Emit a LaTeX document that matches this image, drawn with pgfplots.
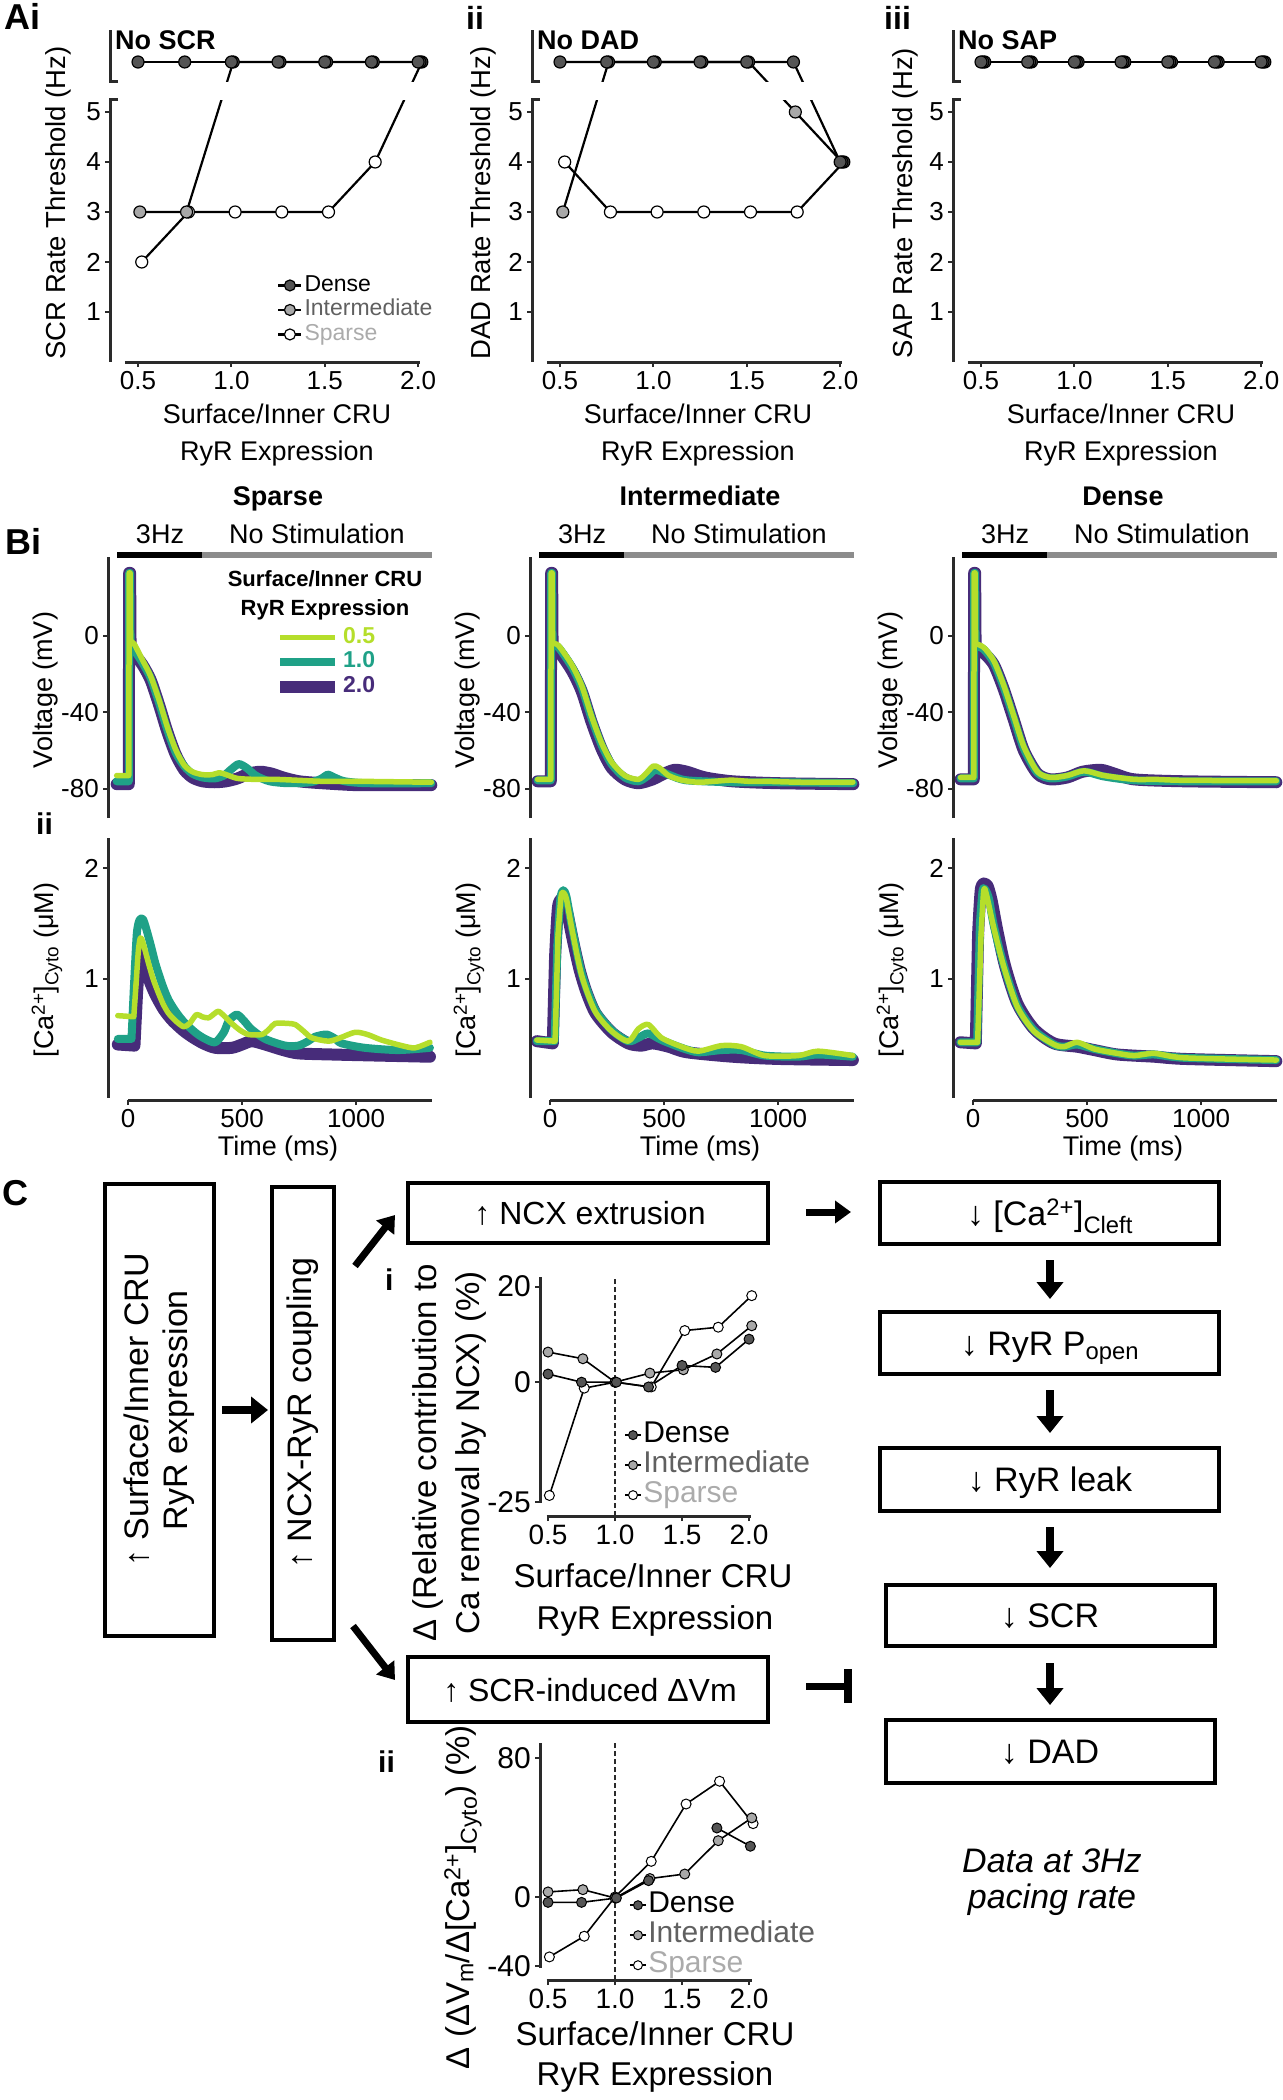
\documentclass[border=0pt]{standalone}
\usepackage{fontspec}
\setmainfont{Liberation Sans}
\usepackage{pgfplots}
\pgfplotsset{compat=1.18}
\usetikzlibrary{arrows.meta}
\newcommand\fs[2]{\fontsize{#1}{#2}\selectfont}
\definecolor{dk}{HTML}{555555}
\definecolor{md}{HTML}{A8A8A8}
\definecolor{axc}{HTML}{2A2A2A}
\definecolor{vy}{HTML}{B5DE2B}
\definecolor{vt}{HTML}{1FA187}
\definecolor{vp}{HTML}{472C7A}
\definecolor{lgI}{HTML}{606060}
\definecolor{lgS}{HTML}{ABABAB}
\definecolor{stimg}{HTML}{8C8C8C}
\pgfplotsset{
  base/.style={scale only axis, clip=false, anchor=south west,
    axis lines*=left, axis line style={draw=none},
    tick align=outside, major tick length=5pt,
    tick style={line width=2pt, color=axc},
    tick label style={font=\fs{26}{26}, inner sep=4pt},
    legend cell align=left},
  Aax/.style={base, width=310pt, height=332pt, xmin=0.35, xmax=2.01, ymin=0, ymax=6.64,
    xtick={0.5,1,1.5,2}, xticklabels={0.5,1.0,1.5,2.0},
    ytick={1,2,3,4,5}, yticklabels={1,2,3,4,5},
    legend image code/.code={\draw[mark repeat=2,mark phase=2,##1] plot coordinates {(0pt,0pt) (11.5pt,0pt) (23pt,0pt)};},
    legend style={draw=none, fill=none, anchor=north west, inner sep=0pt, row sep=0pt,
      font=\fs{23}{23}, nodes={inner sep=2pt, text height=16pt, text depth=4.5pt}}},
  Apl/.style={black, line width=2.2pt, mark=*, mark size=6pt, forget plot,
    scatter, scatter src=explicit symbolic,
    scatter/classes={d={mark=*,draw=black,fill=dk,line width=1.2pt},
                     m={mark=*,draw=black,fill=md,line width=1.2pt},
                     w={mark=*,draw=black,fill=white,line width=1.2pt}}},
  Bax/.style={base, width=324pt, xmin=-88, xmax=1333},
  BV/.style={Bax, height=261pt, ymin=-95.2, ymax=41.3, xtick=\empty, ytick={-80,-40,0}, yticklabels={-80,-40,0}},
  BC/.style={Bax, height=262pt, ymin=-0.09, ymax=2.27, ytick={1,2}, yticklabels={1,2}, xtick={0,500,1000}, xticklabels={0,500,1000}},
  BL/.style={legend image code/.code={\draw[##1] (0pt,0pt) -- (55pt,0pt);},
    legend style={draw=none, fill=none, anchor=north west, inner sep=0pt, row sep=0pt,
    font=\fs{23}{23}\bfseries, nodes={inner sep=2pt, text height=16pt, text depth=4.5pt}}},
  tp/.style={vp, line width=12pt, line join=round, line cap=round, forget plot},
  tt/.style={vt, line width=8pt, line join=round, line cap=round, forget plot},
  ty/.style={vy, line width=5.5pt, line join=round, line cap=round, forget plot},
  sm/.style={smooth, tension=0.45},
  Cax/.style={base, width=212pt, xmin=0.44, xmax=2.022,
    xtick={0.5,1,1.5,2}, xticklabels={0.5,1.0,1.5,2.0},
    xticklabel style={font=\fs{28}{28}}, yticklabel style={font=\fs{30}{30}},
    unbounded coords=jump,
    legend image code/.code={\draw[mark repeat=2,mark phase=2,##1] plot coordinates {(0pt,0pt) (8pt,0pt) (16pt,0pt)};},
    legend style={draw=none, fill=none, anchor=north west, inner sep=0pt, row sep=0pt,
      font=\fs{30}{30}, nodes={inner sep=1.5pt, text height=21pt, text depth=6pt}}},
  Cpl/.style={black, line width=1.6pt, mark=*, mark size=5pt, forget plot},
}
\begin{document}
\begin{tikzpicture}
\path[use as bounding box] (0pt,0pt) rectangle (1282pt,-2100pt);
% ================= A i
\begin{axis}[Aax, at={(110pt,-362pt)}, legend style={at={(axis cs:1.245,1.78)}}]
\addplot[Apl] coordinates {(0.52,2) [w] (0.77,3) [w] (1.02,3) [w] (1.27,3) [w] (1.52,3) [w] (1.77,4) [w] (2.02,6) [d]};
\addplot[Apl] coordinates {(0.51,3) [m] (0.76,3) [m] (1.01,6) [d] (1.26,6) [d] (1.51,6) [d] (1.76,6) [d] (2.01,6) [d]};
\addplot[Apl] coordinates {(0.5,6) [d] (0.75,6) [d] (1.0,6) [d] (1.25,6) [d] (1.5,6) [d] (1.75,6) [d] (2.0,6) [d]};
\fill[white] (axis cs:0.37,5.24) rectangle (axis cs:2.2,5.6);
\draw[axc, line width=3pt] ([xshift=8pt]axis cs:0.35,5.24) -- (axis cs:0.35,5.24) -- (axis cs:0.35,0);
\draw[axc, line width=3pt] ([xshift=8pt]axis cs:0.35,5.6) -- (axis cs:0.35,5.6) -- (axis cs:0.35,6.64);
\draw[axc, line width=3pt] (axis cs:0.43,0) -- (axis cs:2.01,0);
\addlegendimage{black, line width=2.2pt, mark=*, mark size=5.5pt, mark options={draw=black, fill=dk, line width=1.2pt}}
\addlegendentry{Dense}
\addlegendimage{black, line width=2.2pt, mark=*, mark size=5.5pt, mark options={draw=black, fill=md, line width=1.2pt}}
\addlegendentry{\textcolor{lgI}{Intermediate}}
\addlegendimage{black, line width=2.2pt, mark=*, mark size=5.5pt, mark options={draw=black, fill=white, line width=1.2pt}}
\addlegendentry{\textcolor{lgS}{Sparse}}
\end{axis}
% ================= A ii
\begin{axis}[Aax, at={(532pt,-362pt)}]
\addplot[Apl] coordinates {(0.525,4) [w] (0.77,3) [w] (1.02,3) [w] (1.27,3) [w] (1.52,3) [w] (1.77,3) [w] (2.02,4) [d]};
\addplot[Apl] coordinates {(0.515,3) [m] (0.76,6) [d] (1.01,6) [d] (1.26,6) [d] (1.51,6) [d] (1.76,5) [m] (2.01,4) [d]};
\addplot[Apl] coordinates {(0.5,6) [d] (0.75,6) [d] (1.0,6) [d] (1.25,6) [d] (1.5,6) [d] (1.75,6) [d] (2.0,4) [d]};
\fill[white] (axis cs:0.37,5.24) rectangle (axis cs:2.2,5.6);
\draw[axc, line width=3pt] ([xshift=8pt]axis cs:0.35,5.24) -- (axis cs:0.35,5.24) -- (axis cs:0.35,0);
\draw[axc, line width=3pt] ([xshift=8pt]axis cs:0.35,5.6) -- (axis cs:0.35,5.6) -- (axis cs:0.35,6.64);
\draw[axc, line width=3pt] (axis cs:0.43,0) -- (axis cs:2.01,0);
\end{axis}
% ================= A iii
\begin{axis}[Aax, at={(953pt,-362pt)}]
\addplot[Apl] coordinates {(0.52,6) [d] (0.77,6) [d] (1.02,6) [d] (1.27,6) [d] (1.52,6) [d] (1.77,6) [d] (2.02,6) [d]};
\addplot[Apl] coordinates {(0.51,6) [d] (0.76,6) [d] (1.01,6) [d] (1.26,6) [d] (1.51,6) [d] (1.76,6) [d] (2.01,6) [d]};
\addplot[Apl] coordinates {(0.5,6) [d] (0.75,6) [d] (1.0,6) [d] (1.25,6) [d] (1.5,6) [d] (1.75,6) [d] (2.0,6) [d]};
\draw[axc, line width=3pt] ([xshift=8pt]axis cs:0.35,5.24) -- (axis cs:0.35,5.24) -- (axis cs:0.35,0);
\draw[axc, line width=3pt] ([xshift=8pt]axis cs:0.35,5.6) -- (axis cs:0.35,5.6) -- (axis cs:0.35,6.64);
\draw[axc, line width=3pt] (axis cs:0.43,0) -- (axis cs:2.01,0);
\end{axis}
% ================= B Sparse voltage
\begin{axis}[BV, BL, at={(108pt,-818pt)}, legend style={at={(axis cs:640,5.7)}}]
\addplot[tp] coordinates {(-50,-77.5) (3,-77.5) (5,33) (9,33) (11,-8)};
\addplot[tp,sm] coordinates {(11,-8) (30,-10) (63,-15) (99,-23) (136,-36) (172,-50) (209,-62) (246,-70) (282,-74) (326,-76) (380,-76.5) (430,-76) (480,-74.5) (530,-72) (580,-71) (630,-72) (680,-74) (750,-76) (850,-77) (1000,-78) (1150,-78) (1330,-78)};
\addplot[tt] coordinates {(-50,-76) (3,-76) (5,33) (9,33) (11,-5)};
\addplot[tt,sm] coordinates {(11,-5) (30,-8) (63,-14) (99,-22) (136,-35) (172,-49) (209,-61) (246,-68) (282,-72) (326,-74) (380,-74.5) (420,-73) (450,-70) (485,-67) (520,-69) (560,-73) (620,-76) (700,-77) (800,-76.5) (850,-74.5) (875,-72.5) (905,-74) (950,-76) (1050,-77) (1330,-77)};
\addplot[ty] coordinates {(-50,-73) (3,-73) (5,33) (9,33) (11,-3)};
\addplot[ty,sm] coordinates {(11,-3) (26,-4) (63,-12.5) (99,-21) (136,-33.5) (172,-47.5) (209,-59.5) (246,-67.5) (282,-71) (326,-72.5) (370,-72.5) (400,-71.5) (430,-72.5) (480,-74.5) (560,-75) (650,-75) (750,-75.5) (850,-76) (1000,-76) (1330,-76.5)};
\draw[axc, line width=3pt] (axis cs:-88,-95.2) -- (axis cs:-88,41.3);
\addlegendimage{vy, line width=5.5pt}\addlegendentry{\textcolor{vy}{0.5}}
\addlegendimage{vt, line width=8pt}\addlegendentry{\textcolor{vt}{1.0}}
\addlegendimage{vp, line width=12pt}\addlegendentry{\textcolor{vp}{2.0}}
\end{axis}
% ================= B Sparse calcium
\begin{axis}[BC, at={(108pt,-1100pt)}]
\addplot[tp] coordinates {(-45,0.41) (28,0.40) (40,0.9)};
\addplot[tp,sm] coordinates {(40,0.9) (52,1.2) (62,1.24) (75,1.12) (95,0.98) (120,0.86) (155,0.73) (193,0.63) (240,0.54) (280,0.48) (330,0.42) (383,0.38) (455,0.38) (500,0.41) (543,0.44) (601,0.41) (680,0.36) (747,0.33) (893,0.32) (1100,0.31) (1324,0.30)};
\addplot[tt] coordinates {(-45,0.46) (15,0.46) (25,0.9)};
\addplot[tt,sm] coordinates {(25,0.9) (38,1.4) (50,1.53) (65,1.54) (80,1.45) (100,1.3) (120,1.14) (150,0.95) (178,0.81) (215,0.69) (251,0.60) (300,0.51) (339,0.46) (383,0.43) (420,0.52) (441,0.62) (477,0.68) (510,0.62) (540,0.55) (601,0.46) (689,0.40) (747,0.40) (790,0.44) (820,0.48) (871,0.50) (910,0.46) (937,0.42) (1039,0.38) (1185,0.36) (1324,0.38)};
\addplot[ty] coordinates {(-45,0.67) (25,0.66) (35,0.95)};
\addplot[ty,sm] coordinates {(35,0.95) (45,1.25) (54,1.37) (65,1.33) (90,1.14) (110,1.0) (134,0.87) (155,0.77) (178,0.69) (210,0.62) (244,0.57) (270,0.60) (300,0.68) (325,0.66) (353,0.65) (380,0.69) (397,0.71) (420,0.67) (455,0.60) (490,0.54) (528,0.50) (587,0.50) (620,0.55) (645,0.60) (700,0.60) (733,0.59) (770,0.53) (806,0.47) (879,0.44) (930,0.47) (996,0.52) (1050,0.50) (1112,0.45) (1200,0.40) (1258,0.38) (1324,0.43)};
\draw[axc, line width=3pt] (axis cs:-88,-0.07) -- (axis cs:-88,2.27);
\draw[axc, line width=3pt] (axis cs:0,-0.09) -- (axis cs:1333,-0.09);
\end{axis}
% ================= B Intermediate voltage
\begin{axis}[BV, at={(530pt,-818pt)}]
\addplot[tp] coordinates {(-55,-76) (3,-76) (5,33) (9,33) (11,-7)};
\addplot[tp,sm] coordinates {(11,-7) (37,-8) (95,-18) (139,-29) (182,-45) (226,-59) (270,-69) (328,-75) (387,-77) (450,-75) (500,-72) (547,-70) (600,-71) (680,-74) (800,-76) (1000,-77) (1330,-77.5)};
\addplot[tt] coordinates {(-55,-75.5) (3,-75.5) (5,33) (9,33) (11,-5)};
\addplot[tt,sm] coordinates {(11,-5) (37,-6) (95,-16) (139,-27) (182,-43) (226,-57) (270,-67) (328,-74) (387,-76) (430,-73) (460,-70) (490,-71) (530,-73) (600,-75.5) (800,-76.5) (1000,-76.5) (1330,-77)};
\addplot[ty] coordinates {(-55,-75) (3,-75) (5,33) (9,33) (11,-4)};
\addplot[ty,sm] coordinates {(11,-4) (37,-5) (95,-15) (139,-26) (182,-42) (226,-56) (270,-66) (328,-73) (387,-75) (420,-72) (453,-68) (480,-69) (520,-73) (577,-75.4) (650,-76.5) (720,-76) (796,-75.4) (870,-76) (942,-76) (1100,-76.5) (1328,-76.5)};
\draw[axc, line width=3pt] (axis cs:-88,-95.2) -- (axis cs:-88,41.3);
\end{axis}
% ================= B Intermediate calcium
\begin{axis}[BC, at={(530pt,-1100pt)}]
\addplot[tp] coordinates {(-58,0.44) (12,0.42) (22,1.2)};
\addplot[tp,sm] coordinates {(22,1.2) (35,1.65) (55,1.72) (75,1.6) (100,1.35) (130,1.08) (160,0.88) (200,0.69) (270,0.52) (343,0.42) (400,0.40) (450,0.42) (520,0.39) (600,0.34) (800,0.30) (1000,0.28) (1328,0.27)};
\addplot[tt] coordinates {(-58,0.44) (20,0.44) (32,1.3)};
\addplot[tt,sm] coordinates {(32,1.3) (45,1.72) (58,1.80) (72,1.74) (95,1.48) (139,1.05) (197,0.73) (270,0.54) (343,0.44) (387,0.47) (431,0.51) (489,0.45) (577,0.38) (650,0.34) (752,0.36) (839,0.36) (942,0.31) (1088,0.30) (1175,0.32) (1328,0.30)};
\addplot[ty] coordinates {(-58,0.45) (22,0.44) (35,1.4)};
\addplot[ty,sm] coordinates {(35,1.4) (48,1.74) (58,1.78) (72,1.72) (95,1.46) (139,1.03) (197,0.71) (270,0.53) (343,0.44) (387,0.55) (431,0.59) (489,0.47) (577,0.39) (650,0.35) (752,0.40) (839,0.39) (942,0.31) (1088,0.31) (1175,0.35) (1328,0.31)};
\draw[axc, line width=3pt] (axis cs:-88,-0.07) -- (axis cs:-88,2.27);
\draw[axc, line width=3pt] (axis cs:0,-0.09) -- (axis cs:1333,-0.09);
\end{axis}
% ================= B Dense voltage
\begin{axis}[BV, at={(953pt,-818pt)}]
\addplot[tp] coordinates {(-55,-75) (3,-75) (5,33) (9,33) (11,-7)};
\addplot[tp,sm] coordinates {(11,-7) (47,-9) (91,-15) (135,-28) (179,-44) (223,-60) (282,-72) (340,-75) (413,-74) (480,-71) (560,-70) (620,-72) (707,-75) (927,-76) (1330,-76.5)};
\addplot[tt] coordinates {(-55,-74.5) (3,-74.5) (5,33) (9,33) (11,-5)};
\addplot[tt,sm] coordinates {(11,-5) (47,-7) (91,-14) (135,-27) (179,-43) (223,-59) (282,-71.5) (340,-74.5) (413,-73.5) (487,-71) (575,-73.5) (707,-75.5) (927,-76) (1330,-76)};
\addplot[ty] coordinates {(-55,-74) (3,-74) (5,33) (9,33) (11,-4)};
\addplot[ty,sm] coordinates {(11,-4) (47,-6) (91,-13) (135,-26) (179,-42) (223,-58) (282,-71) (340,-74) (413,-73) (487,-70.5) (575,-73) (707,-75) (800,-75) (927,-75.5) (1330,-75.7)};
\draw[axc, line width=3pt] (axis cs:-88,-95.2) -- (axis cs:-88,41.3);
\end{axis}
% ================= B Dense calcium
\begin{axis}[BC, at={(953pt,-1100pt)}]
\addplot[tp] coordinates {(-56,0.43) (12,0.42) (22,1.4)};
\addplot[tp,sm] coordinates {(22,1.4) (35,1.82) (60,1.85) (80,1.72) (105,1.45) (140,1.12) (194,0.78) (267,0.55) (355,0.42) (457,0.39) (531,0.36) (633,0.32) (795,0.30) (927,0.28) (1330,0.26)};
\addplot[tt] coordinates {(-56,0.43) (18,0.43) (30,1.5)};
\addplot[tt,sm] coordinates {(30,1.5) (42,1.80) (55,1.80) (70,1.72) (91,1.48) (135,1.12) (194,0.76) (267,0.54) (355,0.41) (399,0.39) (457,0.41) (531,0.37) (633,0.33) (707,0.31) (795,0.32) (927,0.29) (1330,0.27)};
\addplot[ty] coordinates {(-56,0.43) (20,0.43) (35,1.4)};
\addplot[ty,sm] coordinates {(35,1.4) (47,1.80) (60,1.75) (91,1.46) (135,1.11) (194,0.75) (267,0.53) (355,0.41) (399,0.39) (457,0.43) (531,0.37) (633,0.33) (707,0.31) (795,0.33) (927,0.29) (1330,0.27)};
\draw[axc, line width=3pt] (axis cs:-88,-0.07) -- (axis cs:-88,2.27);
\draw[axc, line width=3pt] (axis cs:0,-0.09) -- (axis cs:1333,-0.09);
\end{axis}
% ================= C i
\begin{axis}[Cax, at={(540pt,-1516pt)}, height=239pt, ymin=-28, ymax=22,
  ytick={-25,0,20}, yticklabels={-25,0,20}, legend style={at={(axis cs:1.067,-7.9)}}]
\draw[axc, line width=1.5pt, dash pattern=on 5pt off 3pt] (axis cs:1,-28) -- (axis cs:1,22);
\addplot[Cpl, mark options={draw=black, fill=white, line width=1pt}] coordinates {(0.51,-23.7) (0.77,-1.25) (1.0,0) (1.27,-1.0) (1.52,10.8) (1.77,11.5) (2.02,18.1)};
\addplot[Cpl, mark options={draw=black, fill=md, line width=1pt}] coordinates {(0.5,6.3) (0.76,4.9) (1.0,0) (1.26,1.9) (1.51,2.6) (1.76,5.9) (2.02,11.8)};
\addplot[Cpl, mark options={draw=black, fill=dk, line width=1pt}] coordinates {(0.5,1.7) (0.75,0) (1.01,0) (1.25,-1.0) (1.5,3.5) (1.75,3.1) (2.0,9.0)};
\draw[axc, line width=3pt] (axis cs:0.44,-25.2) -- (axis cs:0.44,22);
\draw[axc, line width=3pt] (axis cs:0.49,-28) -- (axis cs:2.015,-28);
\addlegendimage{black, line width=1.6pt, mark=*, mark size=4.5pt, mark options={draw=black, fill=dk, line width=1pt}}
\addlegendentry{Dense}
\addlegendimage{black, line width=1.6pt, mark=*, mark size=4.5pt, mark options={draw=black, fill=md, line width=1pt}}
\addlegendentry{\textcolor{lgI}{Intermediate}}
\addlegendimage{black, line width=1.6pt, mark=*, mark size=4.5pt, mark options={draw=black, fill=white, line width=1pt}}
\addlegendentry{\textcolor{lgS}{Sparse}}
\end{axis}
% ================= C ii
\begin{axis}[Cax, at={(540pt,-1980pt)}, height=237pt, ymin=-47.8, ymax=88.6,
  ytick={-40,0,80}, yticklabels={-40,0,80}, legend style={at={(axis cs:1.104,4.0)}}]
\draw[axc, line width=1.5pt, dash pattern=on 5pt off 3pt] (axis cs:1,-47.8) -- (axis cs:1,88.6);
\addplot[Cpl, mark options={draw=black, fill=white, line width=1pt}] coordinates {(0.51,-34.5) (0.77,-22.6) (1.0,0) (1.27,20.5) (1.53,53.5) (1.78,66.6) (2.03,42.2)};
\addplot[Cpl, mark options={draw=black, fill=md, line width=1pt}] coordinates {(0.5,2.9) (0.76,4.2) (1.0,-0.6) (1.26,10.6) (1.52,13.2) (1.77,32.4) (2.02,45.5)};
\addplot[Cpl, mark options={draw=black, fill=dk, line width=1pt}] coordinates {(0.5,-3.1) (0.75,-3.1) (1.01,-0.6) (1.25,9.4) (1.5,nan) (1.76,39.7) (2.01,29.2)};
\draw[axc, line width=3pt] (axis cs:0.44,-40.9) -- (axis cs:0.44,88.6);
\draw[axc, line width=3pt] (axis cs:0.49,-47.8) -- (axis cs:2.022,-47.8);
\addlegendimage{black, line width=1.6pt, mark=*, mark size=4.5pt, mark options={draw=black, fill=dk, line width=1pt}}
\addlegendentry{Dense}
\addlegendimage{black, line width=1.6pt, mark=*, mark size=4.5pt, mark options={draw=black, fill=md, line width=1pt}}
\addlegendentry{\textcolor{lgI}{Intermediate}}
\addlegendimage{black, line width=1.6pt, mark=*, mark size=4.5pt, mark options={draw=black, fill=white, line width=1pt}}
\addlegendentry{\textcolor{lgS}{Sparse}}
\end{axis}
% ================= annotations
\begin{scope}[x=1pt,y=-1pt]
\node[anchor=north west, inner sep=0pt, font=\fs{36}{36}\bfseries] at (4,3) {Ai};
\node[anchor=north west, inner sep=0pt, font=\fs{32}{32}\bfseries] at (466,6) {ii};
\node[anchor=north west, inner sep=0pt, font=\fs{32}{32}\bfseries] at (884,6) {iii};
\node[anchor=west, inner sep=0pt, font=\fs{27}{27}\bfseries] at (115,40) {No SCR};
\node[anchor=west, inner sep=0pt, font=\fs{27}{27}\bfseries] at (537,40) {No DAD};
\node[anchor=west, inner sep=0pt, font=\fs{27}{27}\bfseries] at (958,40) {No SAP};
\node[rotate=90, font=\fs{27.5}{27.5}] at (58,203) {SCR Rate Threshold (Hz)};
\node[rotate=90, font=\fs{27.5}{27.5}] at (483,203) {DAD Rate Threshold (Hz)};
\node[rotate=90, font=\fs{27.5}{27.5}] at (905,203) {SAP Rate Threshold (Hz)};
\foreach \cx in {277,698,1121}{
  \node[anchor=base, font=\fs{27}{27}] at (\cx,423) {Surface/Inner CRU};
  \node[anchor=base, font=\fs{27}{27}] at (\cx,460) {RyR Expression};
}
\node[anchor=north west, inner sep=0pt, font=\fs{36}{36}\bfseries] at (5,528) {Bi};
\node[anchor=north west, inner sep=0pt, font=\fs{30}{30}\bfseries] at (36,813) {ii};
\foreach \xo/\tt in {128/Sparse,550/Intermediate,973/Dense}{
  \node[anchor=base, font=\fs{27}{27}\bfseries] at (\xo+150,505) {\tt};
  \node[anchor=base, font=\fs{27}{27}] at (\xo+32,543) {3Hz};
  \node[anchor=base, font=\fs{27}{27}] at (\xo+189,543) {No Stimulation};
  \draw[black, line width=6pt] (\xo-11,555) -- (\xo+74,555);
  \draw[stimg, line width=6pt] (\xo+74,555) -- (\xo+304,555);
  \node[anchor=base, font=\fs{27}{27}] at (\xo+150,1155) {Time (ms)};
  \node[rotate=90, font=\fs{27}{27}] at (\xo-82,690) {Voltage (mV)};
  \node[rotate=90, font=\fs{27}{27}] at (\xo-81,970) {[Ca\textsuperscript{2+}]\textsubscript{Cyto} (μM)};
}
\node[anchor=base, font=\fs{22}{22}\bfseries] at (325,586) {Surface/Inner CRU};
\node[anchor=base, font=\fs{22}{22}\bfseries] at (325,615) {RyR Expression};
\node[anchor=north west, inner sep=0pt, font=\fs{36}{36}\bfseries] at (2,1180) {C};
\node[anchor=north west, inner sep=0pt, font=\fs{30}{30}\bfseries] at (385,1269) {i};
\node[anchor=north west, inner sep=0pt, font=\fs{30}{30}\bfseries] at (378,1751) {ii};
\node[anchor=base, font=\fs{33}{33}] at (653,1587) {Surface/Inner CRU};
\node[anchor=base, font=\fs{33}{33}] at (655,1629) {RyR Expression};
\node[anchor=base, font=\fs{33}{33}] at (655,2045) {Surface/Inner CRU};
\node[anchor=base, font=\fs{33}{33}] at (655,2085) {RyR Expression};
\node[rotate=90, align=center, font=\fs{33}{43}] at (449,1453) {Δ (Relative contribution to\\Ca removal by NCX) (\%)};
\node[rotate=90, font=\fs{33}{33}] at (463,1897) {Δ (ΔV\textsubscript{m}/Δ[Ca\textsuperscript{2+}]\textsubscript{Cyto}) (\%)};
\draw[line width=3.5pt] (105,1184) rectangle (214,1636);
\node[rotate=90, align=center, font=\fs{34}{39}] at (159.5,1410) {↑ Surface/Inner CRU\\RyR expression};
\draw[line width=3.5pt] (272,1187) rectangle (334,1640);
\node[rotate=90, font=\fs{34}{34}] at (303,1413) {↑ NCX-RyR coupling};
\draw[line width=3.5pt] (408,1183) rectangle (768,1243);
\node[anchor=base, font=\fs{32}{32}] at (590,1224) {↑ NCX extrusion};
\draw[line width=3.5pt] (408,1657) rectangle (768,1722);
\node[anchor=base, font=\fs{32}{32}] at (590,1701) {↑ SCR-induced ΔVm};
\draw[line width=3.5pt] (880,1182) rectangle (1219,1244);
\node[anchor=base, font=\fs{34}{34}] at (1050,1225) {↓ [Ca\textsuperscript{2+}]\textsubscript{Cleft}};
\draw[line width=3.5pt] (880,1312) rectangle (1219,1374);
\node[anchor=base, font=\fs{34}{34}] at (1050,1355) {↓ RyR P\textsubscript{open}};
\draw[line width=3.5pt] (880,1448) rectangle (1219,1511);
\node[anchor=base, font=\fs{34}{34}] at (1050,1491) {↓ RyR leak};
\draw[line width=3.5pt] (886,1585) rectangle (1215,1646);
\node[anchor=base, font=\fs{34}{34}] at (1050,1627) {↓ SCR};
\draw[line width=3.5pt] (886,1720) rectangle (1215,1783);
\node[anchor=base, font=\fs{34}{34}] at (1050,1763) {↓ DAD};
\node[anchor=base, font=\fs{34}{34}\itshape] at (1052,1872) {Data at 3Hz};
\node[anchor=base, font=\fs{34}{34}\itshape] at (1052,1908) {pacing rate};
\draw[line width=8pt, -{Triangle[length=17pt,width=26pt]}] (222,1410) -- (268,1410);
\draw[line width=7pt, -{Triangle[length=16pt,width=22pt]}] (355,1266) -- (395,1215);
\draw[line width=7pt, -{Triangle[length=16pt,width=22pt]}] (353,1626) -- (395,1680);
\draw[line width=7pt, -{Triangle[length=16pt,width=22pt]}] (806,1212) -- (851,1212);
\draw[line width=7pt] (806,1686) -- (846,1686);
\draw[line width=8pt] (848,1669) -- (848,1703);
\foreach \a/\b in {1260/1299,1390/1433,1527/1568,1663/1705}
  \draw[line width=8pt, -{Triangle[length=17pt,width=26pt]}] (1050,\a) -- (1050,\b);
\end{scope}
\end{tikzpicture}
\end{document}
